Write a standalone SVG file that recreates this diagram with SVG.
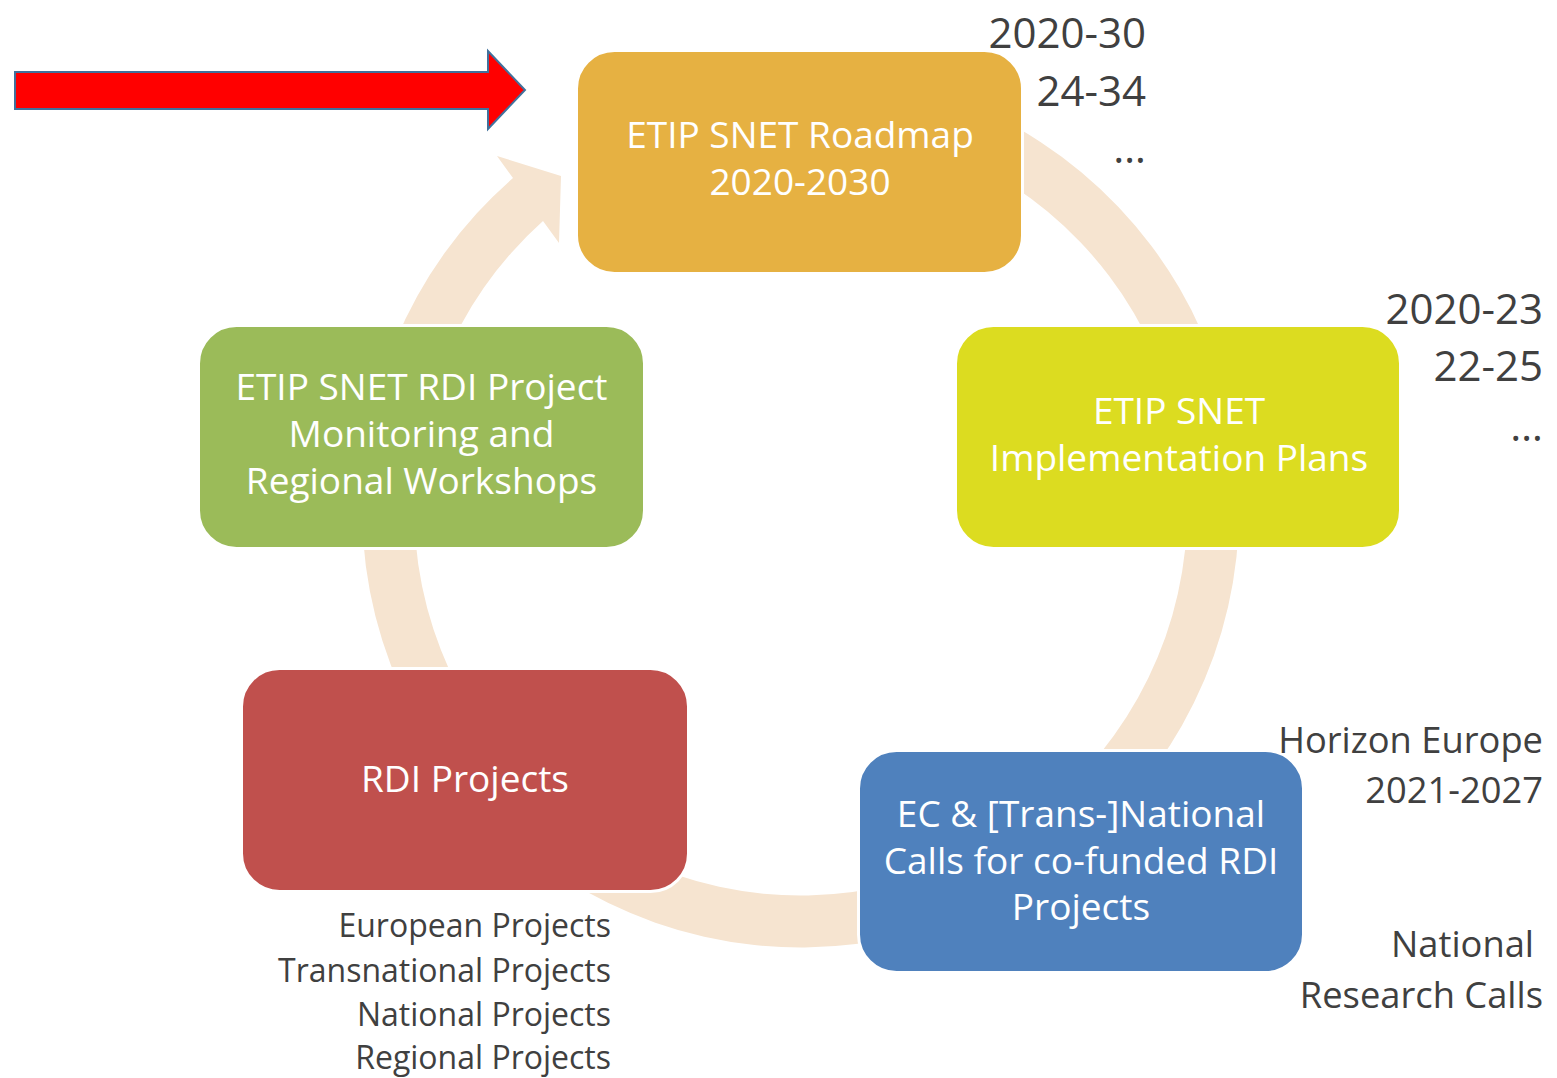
<svg xmlns="http://www.w3.org/2000/svg" width="1557" height="1078" viewBox="0 0 1557 1078">
  <style>
    .box { stroke: #FFFFFF; stroke-width: 3; }
    .in { font-family: "Open Sans", "Noto Sans", sans-serif; font-size: 37px; fill: #FFFFFF; text-anchor: middle; }
    .side { font-family: "Open Sans", "Noto Sans", sans-serif; fill: #404040; text-anchor: end; }
    .big { font-size: 42px; }
    .mid { font-size: 36.3px; }
    .small { font-size: 32px; }
  </style>
  <rect width="1557" height="1078" fill="#FFFFFF"/>

  <!-- cycle ring with arrowhead feeding the roadmap -->
  <g id="connectors">
    <path fill="#F6E4D0" d="M 800,70.5 A 438.5 438.5 0 1 1 513,178 L 497,156 L 561,176 L 559,243 L 543,221 A 386.5 386.5 0 1 0 800,122.5 Z"/>
  </g>

  <!-- red pointer arrow -->
  <g id="pointer">
    <polygon points="15,72 488,72 488,51 525,90 488,129 488,109 15,109" fill="#FF0000" stroke="#41719C" stroke-width="2"/>
  </g>

  <g id="roadmap">
    <rect class="box" x="576.5" y="50.5" width="446" height="223" rx="38" fill="#E6B142"/>
    <text class="in"><tspan x="800" y="148">ETIP SNET Roadmap</tspan><tspan x="800" y="195">2020-2030</tspan></text>
  </g>

  <g id="implementation">
    <rect class="box" x="955.5" y="325.5" width="445" height="223" rx="38" fill="#DCDC20"/>
    <text class="in"><tspan x="1179" y="424">ETIP SNET</tspan><tspan x="1179" y="471">Implementation Plans</tspan></text>
  </g>

  <g id="calls">
    <rect class="box" x="858.5" y="750.5" width="445" height="222" rx="38" fill="#4F81BD"/>
    <text class="in"><tspan x="1081" y="827">EC &amp; [Trans-]National</tspan><tspan x="1081" y="874">Calls for co-funded RDI</tspan><tspan x="1081" y="920">Projects</tspan></text>
  </g>

  <g id="projects">
    <rect class="box" x="241.5" y="668.5" width="447" height="223" rx="38" fill="#C0504D"/>
    <text class="in" x="465" y="792">RDI Projects</text>
  </g>

  <g id="monitoring">
    <rect class="box" x="198.5" y="325.5" width="446" height="223" rx="38" fill="#9BBB59"/>
    <text class="in"><tspan x="421.5" y="400">ETIP SNET RDI Project</tspan><tspan x="421.5" y="447">Monitoring and</tspan><tspan x="421.5" y="494">Regional Workshops</tspan></text>
  </g>

  <!-- side annotations -->
  <g id="roadmap-notes" class="side big">
    <text x="1146" y="48">2020-30</text>
    <text x="1146" y="106">24-34</text>
    <text x="1146" y="163">…</text>
  </g>
  <g id="plan-notes" class="side big">
    <text x="1543" y="324">2020-23</text>
    <text x="1543" y="381">22-25</text>
    <text x="1543" y="441">…</text>
  </g>
  <g id="call-notes" class="side mid">
    <text x="1543" y="753">Horizon Europe</text>
    <text x="1543" y="803">2021-2027</text>
    <text x="1534" y="957">National</text>
    <text x="1543" y="1008">Research Calls</text>
  </g>
  <g id="project-notes" class="side small">
    <text x="611" y="937">European Projects</text>
    <text x="611" y="982">Transnational Projects</text>
    <text x="611" y="1026">National Projects</text>
    <text x="611" y="1069">Regional Projects</text>
  </g>
</svg>
